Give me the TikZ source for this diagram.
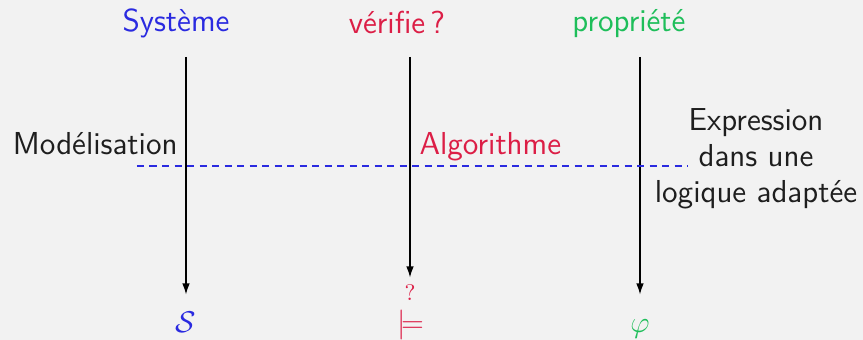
\documentclass[tikz,border=0pt]{standalone}
\renewcommand{\familydefault}{\sfdefault}
\usetikzlibrary{arrows.meta}
\definecolor{bg}{HTML}{F2F2F2}
\definecolor{cblue}{HTML}{2A2AE0}
\definecolor{cred}{HTML}{DC1E46}
\definecolor{cgreen}{HTML}{1EBE5A}
\definecolor{ctext}{HTML}{1E1E1E}
\newcommand{\myfs}{\fontsize{12.7}{14.4}\selectfont}
\begin{document}
\begin{tikzpicture}[x=0.4pt,y=-0.4pt,
  lbl/.style={font=\myfs,inner sep=0pt,anchor=base},
  sym/.style={font=\myfs,inner sep=0pt,anchor=base,text height=14.8pt,text depth=0pt},
  qm/.style={font=\fontsize{9}{10}\selectfont,inner sep=0pt,anchor=base,text height=9.2pt,text depth=0pt},
  arr/.style={-{Latex[length=4.4pt,width=3pt]},line width=0.5pt},
  sep/.style={draw=cblue,line width=0.6pt,dash pattern=on 2.8pt off 2.2pt}]
\fill[bg] (0,0) rectangle (863,340);
\useasboundingbox (0,0) rectangle (863,340);
% top labels
\node[lbl,text=cblue] (sys) at (176,31) {Système};
\node[lbl,text=cred] (ver) at (397,33) {vérifie\,?};
\node[lbl,text=cgreen] (prop) at (629,31) {propriété};
% bottom symbols
\node[sym,text=cblue] (S) at (186,332) {$\mathcal{S}$};
\node[qm,text=cred] (Q) at (410,301) {$?$};
\node[lbl,text=cred] (M) at (411,332) {$\models$};
\node[sym,text=cgreen] (phi) at (640,332) {$\varphi$};
% arrows
\coordinate (s0) at (186,57);
\coordinate (m0) at (410,57);
\coordinate (p0) at (640,57);
\draw[arr] (s0) -- (S);
\draw[arr] (m0) -- (Q);
\draw[arr] (p0) -- (phi);
% side labels
\node[lbl,text=ctext,anchor=base east] (mod) at (178,155) {Modélisation};
\node[lbl,text=cred,anchor=base west] (alg) at (419,155) {Algorithme};
\node[lbl,text=ctext,align=center,anchor=base] (exp) at (756,203) {Expression\\dans une\\logique adaptée};
% dashed separator
\coordinate (d0) at (137,166);
\coordinate (d1) at (688,166);
\draw[sep] (d0) -- (d1);
\end{tikzpicture}
\end{document}
